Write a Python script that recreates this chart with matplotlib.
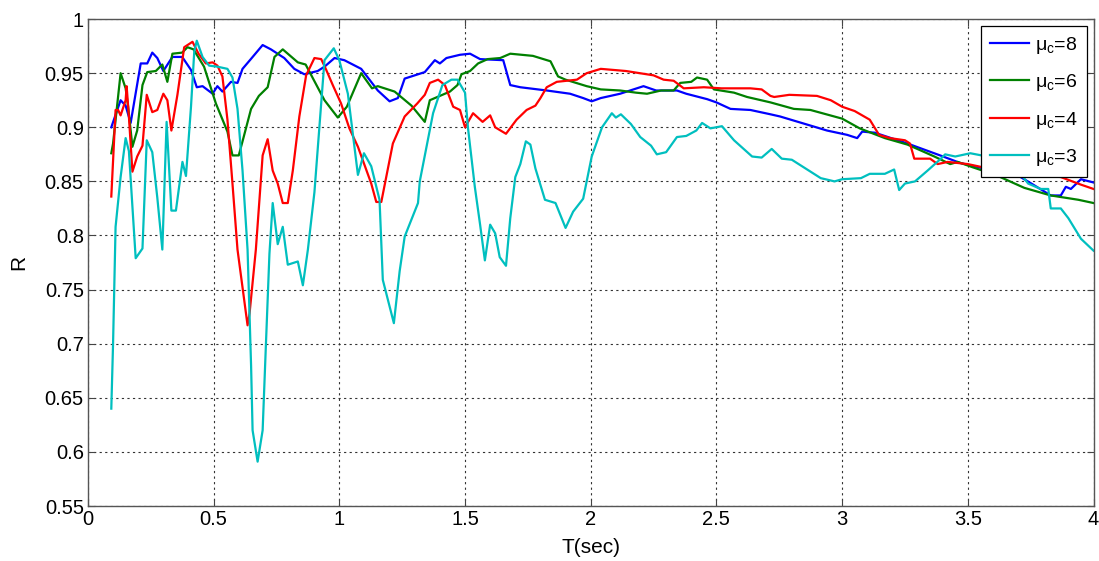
import numpy as np
import matplotlib
matplotlib.use('Agg')
import matplotlib.pyplot as plt
from matplotlib.ticker import FuncFormatter, MultipleLocator

plt.rcParams['font.family'] = ['Liberation Sans', 'DejaVu Sans']
plt.rcParams['mathtext.fontset'] = 'custom'
plt.rcParams['mathtext.rm'] = 'Liberation Sans'
plt.rcParams['mathtext.it'] = 'Liberation Sans:italic'

# mu_c = 8
t8 = [0.093, 0.13, 0.15, 0.17, 0.21, 0.236, 0.256, 0.276, 0.30, 0.336, 0.375, 0.41, 0.433, 0.456,
      0.496, 0.515, 0.535, 0.569, 0.595, 0.615, 0.648, 0.695, 0.728, 0.781, 0.821, 0.861, 0.914,
      0.941, 0.981, 1.02, 1.087, 1.153, 1.20, 1.233, 1.26, 1.34, 1.38, 1.40, 1.426, 1.48, 1.52,
      1.56, 1.652, 1.68, 1.72, 1.825, 1.918, 1.97, 2.004, 2.04, 2.117, 2.17, 2.21, 2.26, 2.343,
      2.38, 2.463, 2.50, 2.556, 2.635, 2.715, 2.753, 2.94, 3.02, 3.06, 3.08, 3.13, 3.26, 3.39,
      3.47, 3.60, 3.71, 3.76, 3.83, 3.87, 3.89, 3.91, 3.95, 4.0]
r8 = [0.900, 0.925, 0.920, 0.904, 0.959, 0.959, 0.969, 0.964, 0.952, 0.965, 0.965, 0.953, 0.937, 0.938,
      0.931, 0.938, 0.933, 0.942, 0.941, 0.954, 0.963, 0.976, 0.972, 0.964, 0.954, 0.949, 0.952,
      0.956, 0.964, 0.962, 0.954, 0.934, 0.924, 0.927, 0.945, 0.951, 0.962, 0.959, 0.964, 0.967, 0.968,
      0.963, 0.962, 0.939, 0.937, 0.934, 0.931, 0.927, 0.924, 0.927, 0.931, 0.935, 0.938, 0.934, 0.934,
      0.931, 0.926, 0.923, 0.917, 0.916, 0.912, 0.910, 0.897, 0.893, 0.890, 0.896, 0.895, 0.885, 0.874,
      0.867, 0.860, 0.854, 0.847, 0.837, 0.837, 0.845, 0.843, 0.852, 0.849]

# mu_c = 6
t6 = [0.093, 0.10, 0.13, 0.15, 0.16, 0.177, 0.196, 0.217, 0.236, 0.27, 0.296, 0.316, 0.336, 0.375,
      0.396, 0.42, 0.462, 0.509, 0.555, 0.575, 0.60, 0.615, 0.649, 0.68, 0.715, 0.742, 0.775, 0.835,
      0.866, 0.941, 0.994, 1.03, 1.087, 1.13, 1.153, 1.22, 1.287, 1.34, 1.36, 1.40, 1.44, 1.47,
      1.486, 1.52, 1.552, 1.59, 1.64, 1.68, 1.77, 1.84, 1.87, 1.90, 1.984, 2.04, 2.117, 2.18, 2.224,
      2.28, 2.33, 2.356, 2.40, 2.423, 2.463, 2.49, 2.57, 2.622, 2.715, 2.808, 2.874, 3.0, 3.07,
      3.17, 3.26, 3.367, 3.43, 3.46, 3.52, 3.61, 3.725, 3.83, 3.94, 4.0]
r6 = [0.876, 0.885, 0.950, 0.936, 0.919, 0.882, 0.897, 0.939, 0.951, 0.952, 0.958, 0.942, 0.968, 0.969,
      0.974, 0.972, 0.956, 0.922, 0.896, 0.874, 0.874, 0.887, 0.917, 0.929, 0.937, 0.965, 0.972, 0.960,
      0.958, 0.925, 0.909, 0.919, 0.950, 0.936, 0.938, 0.933, 0.920, 0.905, 0.925, 0.929, 0.933, 0.939,
      0.949, 0.952, 0.959, 0.963, 0.964, 0.968, 0.966, 0.961, 0.947, 0.944, 0.938, 0.935, 0.934, 0.932, 0.931,
      0.934, 0.934, 0.941, 0.942, 0.946, 0.944, 0.935, 0.932, 0.928, 0.923, 0.917, 0.916, 0.908, 0.899,
      0.890, 0.884, 0.873, 0.866, 0.868, 0.863, 0.856, 0.844, 0.837, 0.833, 0.830]

# mu_c = 4
t4 = [0.093, 0.11, 0.12, 0.13, 0.15, 0.154, 0.163, 0.177, 0.196, 0.217, 0.234, 0.256, 0.276, 0.30,
      0.316, 0.332, 0.356, 0.383, 0.416, 0.44, 0.469, 0.496, 0.515, 0.535, 0.555, 0.575, 0.595, 0.635,
      0.643, 0.668, 0.695, 0.715, 0.735, 0.755, 0.775, 0.795, 0.815, 0.841, 0.868, 0.901, 0.928, 0.948,
      0.974, 1.007, 1.04, 1.074, 1.127, 1.147, 1.167, 1.213, 1.26, 1.31, 1.34, 1.36, 1.393, 1.42,
      1.453, 1.48, 1.50, 1.532, 1.57, 1.60, 1.62, 1.663, 1.705, 1.745, 1.78, 1.80, 1.825, 1.865, 1.945,
      1.984, 2.04, 2.09, 2.14, 2.25, 2.29, 2.33, 2.37, 2.45, 2.52, 2.635, 2.68, 2.715, 2.73, 2.79,
      2.90, 2.955, 3.0, 3.05, 3.11, 3.147, 3.19, 3.25, 3.27, 3.287, 3.35, 3.38, 3.42, 3.5, 3.62, 3.765,
      3.87, 3.95, 4.0]
r4 = [0.836, 0.916, 0.916, 0.911, 0.925, 0.938, 0.910, 0.859, 0.873, 0.883, 0.930, 0.914, 0.916, 0.931,
      0.925, 0.897, 0.930, 0.974, 0.979, 0.968, 0.959, 0.960, 0.957, 0.947, 0.907, 0.848, 0.787, 0.717,
      0.728, 0.787, 0.874, 0.889, 0.860, 0.848, 0.830, 0.830, 0.860, 0.910, 0.948, 0.964, 0.963, 0.953,
      0.939, 0.922, 0.899, 0.882, 0.848, 0.831, 0.831, 0.885, 0.910, 0.922, 0.930, 0.941, 0.944, 0.939,
      0.919, 0.916, 0.900, 0.913, 0.905, 0.911, 0.900, 0.894, 0.907, 0.916, 0.920, 0.927, 0.937, 0.942, 0.944,
      0.950, 0.954, 0.953, 0.952, 0.948, 0.944, 0.943, 0.936, 0.937, 0.936, 0.936, 0.935, 0.929, 0.928, 0.930,
      0.929, 0.925, 0.919, 0.915, 0.907, 0.893, 0.890, 0.888, 0.885, 0.871, 0.871, 0.866, 0.868, 0.866, 0.860, 0.857,
      0.854, 0.847, 0.843]

# mu_c = 3
t3 = [0.093, 0.10, 0.11, 0.13, 0.15, 0.163, 0.19, 0.217, 0.234, 0.256, 0.276, 0.296, 0.313, 0.332,
      0.35, 0.376, 0.39, 0.41, 0.423, 0.433, 0.456, 0.482, 0.515, 0.555, 0.575, 0.595, 0.615, 0.635,
      0.649, 0.655, 0.675, 0.695, 0.708, 0.722, 0.735, 0.755, 0.775, 0.795, 0.835, 0.855, 0.875, 0.901,
      0.941, 0.978, 1.00, 1.034, 1.074, 1.098, 1.127, 1.16, 1.173, 1.217, 1.24, 1.26, 1.313, 1.32,
      1.373, 1.41, 1.446, 1.47, 1.50, 1.512, 1.539, 1.56, 1.579, 1.60, 1.62, 1.638, 1.663, 1.68, 1.70,
      1.72, 1.742, 1.76, 1.78, 1.818, 1.86, 1.90, 1.93, 1.97, 2.004, 2.045, 2.084, 2.10, 2.12, 2.16,
      2.197, 2.24, 2.263, 2.30, 2.343, 2.38, 2.42, 2.443, 2.476, 2.522, 2.57, 2.642, 2.68, 2.72, 2.76,
      2.80, 2.915, 2.97, 3.00, 3.075, 3.11, 3.17, 3.207, 3.227, 3.25, 3.29, 3.34, 3.393, 3.41, 3.45,
      3.51, 3.60, 3.70, 3.74, 3.79, 3.82, 3.83, 3.87, 3.90, 3.95, 4.0]
r3 = [0.640, 0.700, 0.808, 0.854, 0.890, 0.878, 0.779, 0.788, 0.888, 0.877, 0.835, 0.787, 0.905, 0.823,
      0.823, 0.868, 0.855, 0.919, 0.970, 0.980, 0.965, 0.957, 0.956, 0.954, 0.946, 0.917, 0.860, 0.787,
      0.680, 0.620, 0.591, 0.620, 0.699, 0.783, 0.830, 0.792, 0.808, 0.773, 0.776, 0.754, 0.787, 0.840,
      0.962, 0.973, 0.962, 0.931, 0.856, 0.876, 0.864, 0.833, 0.759, 0.719, 0.767, 0.799, 0.830, 0.850,
      0.913, 0.939, 0.944, 0.944, 0.932, 0.899, 0.845, 0.810, 0.777, 0.810, 0.802, 0.780, 0.772, 0.816, 0.854,
      0.866, 0.887, 0.884, 0.862, 0.833, 0.830, 0.807, 0.822, 0.834, 0.873, 0.900, 0.913, 0.909, 0.912, 0.903,
      0.891, 0.883, 0.875, 0.877, 0.891, 0.892, 0.897, 0.904, 0.899, 0.901, 0.888, 0.873, 0.872, 0.880, 0.871,
      0.870, 0.853, 0.850, 0.852, 0.853, 0.857, 0.857, 0.861, 0.842, 0.848, 0.850, 0.860, 0.871, 0.875, 0.873,
      0.876, 0.872, 0.860, 0.848, 0.843, 0.843, 0.825, 0.825, 0.816, 0.797, 0.786]

series = [
    (t8, r8, '#0000ff', 'μ$_\\mathregular{c}$=8'),
    (t6, r6, '#008000', 'μ$_\\mathregular{c}$=6'),
    (t4, r4, '#ff0000', 'μ$_\\mathregular{c}$=4'),
    (t3, r3, '#00bfbf', 'μ$_\\mathregular{c}$=3'),
]

fig = plt.figure(figsize=(10.99, 5.61), dpi=100)
ax = fig.add_axes([0.080, 0.098, 0.915, 0.868])

for t, r, col, lab in series:
    ax.plot(t, r, color=col, lw=1.6, label=lab)

ax.set_xlim(0, 4)
ax.set_ylim(0.55, 1.0)
ax.xaxis.set_major_locator(MultipleLocator(0.5))
ax.yaxis.set_major_locator(MultipleLocator(0.05))
fmt = FuncFormatter(lambda v, p: '%g' % round(v, 3))
ax.xaxis.set_major_formatter(fmt)
ax.yaxis.set_major_formatter(fmt)
ax.tick_params(direction='in', length=5, width=0.8, color='#444444',
               top=True, right=True, labelsize=14.5, pad=3)
for s in ax.spines.values():
    s.set_color('#555555')
    s.set_linewidth(1.0)
ax.grid(True, color='#333333', linestyle=(0, (2, 3)), linewidth=0.8)

ax.set_xlabel('T(sec)', fontsize=15, labelpad=6)
ax.set_ylabel('R', fontsize=15, labelpad=12)

leg = ax.legend(loc='upper right', fontsize=14, frameon=True, fancybox=False,
                edgecolor='black', framealpha=1, handlelength=2.0, labelspacing=0.85,
                borderaxespad=0.35, handletextpad=0.35, borderpad=0.45)
leg.get_frame().set_linewidth(0.9)

fig.savefig('out.png', dpi=100)
